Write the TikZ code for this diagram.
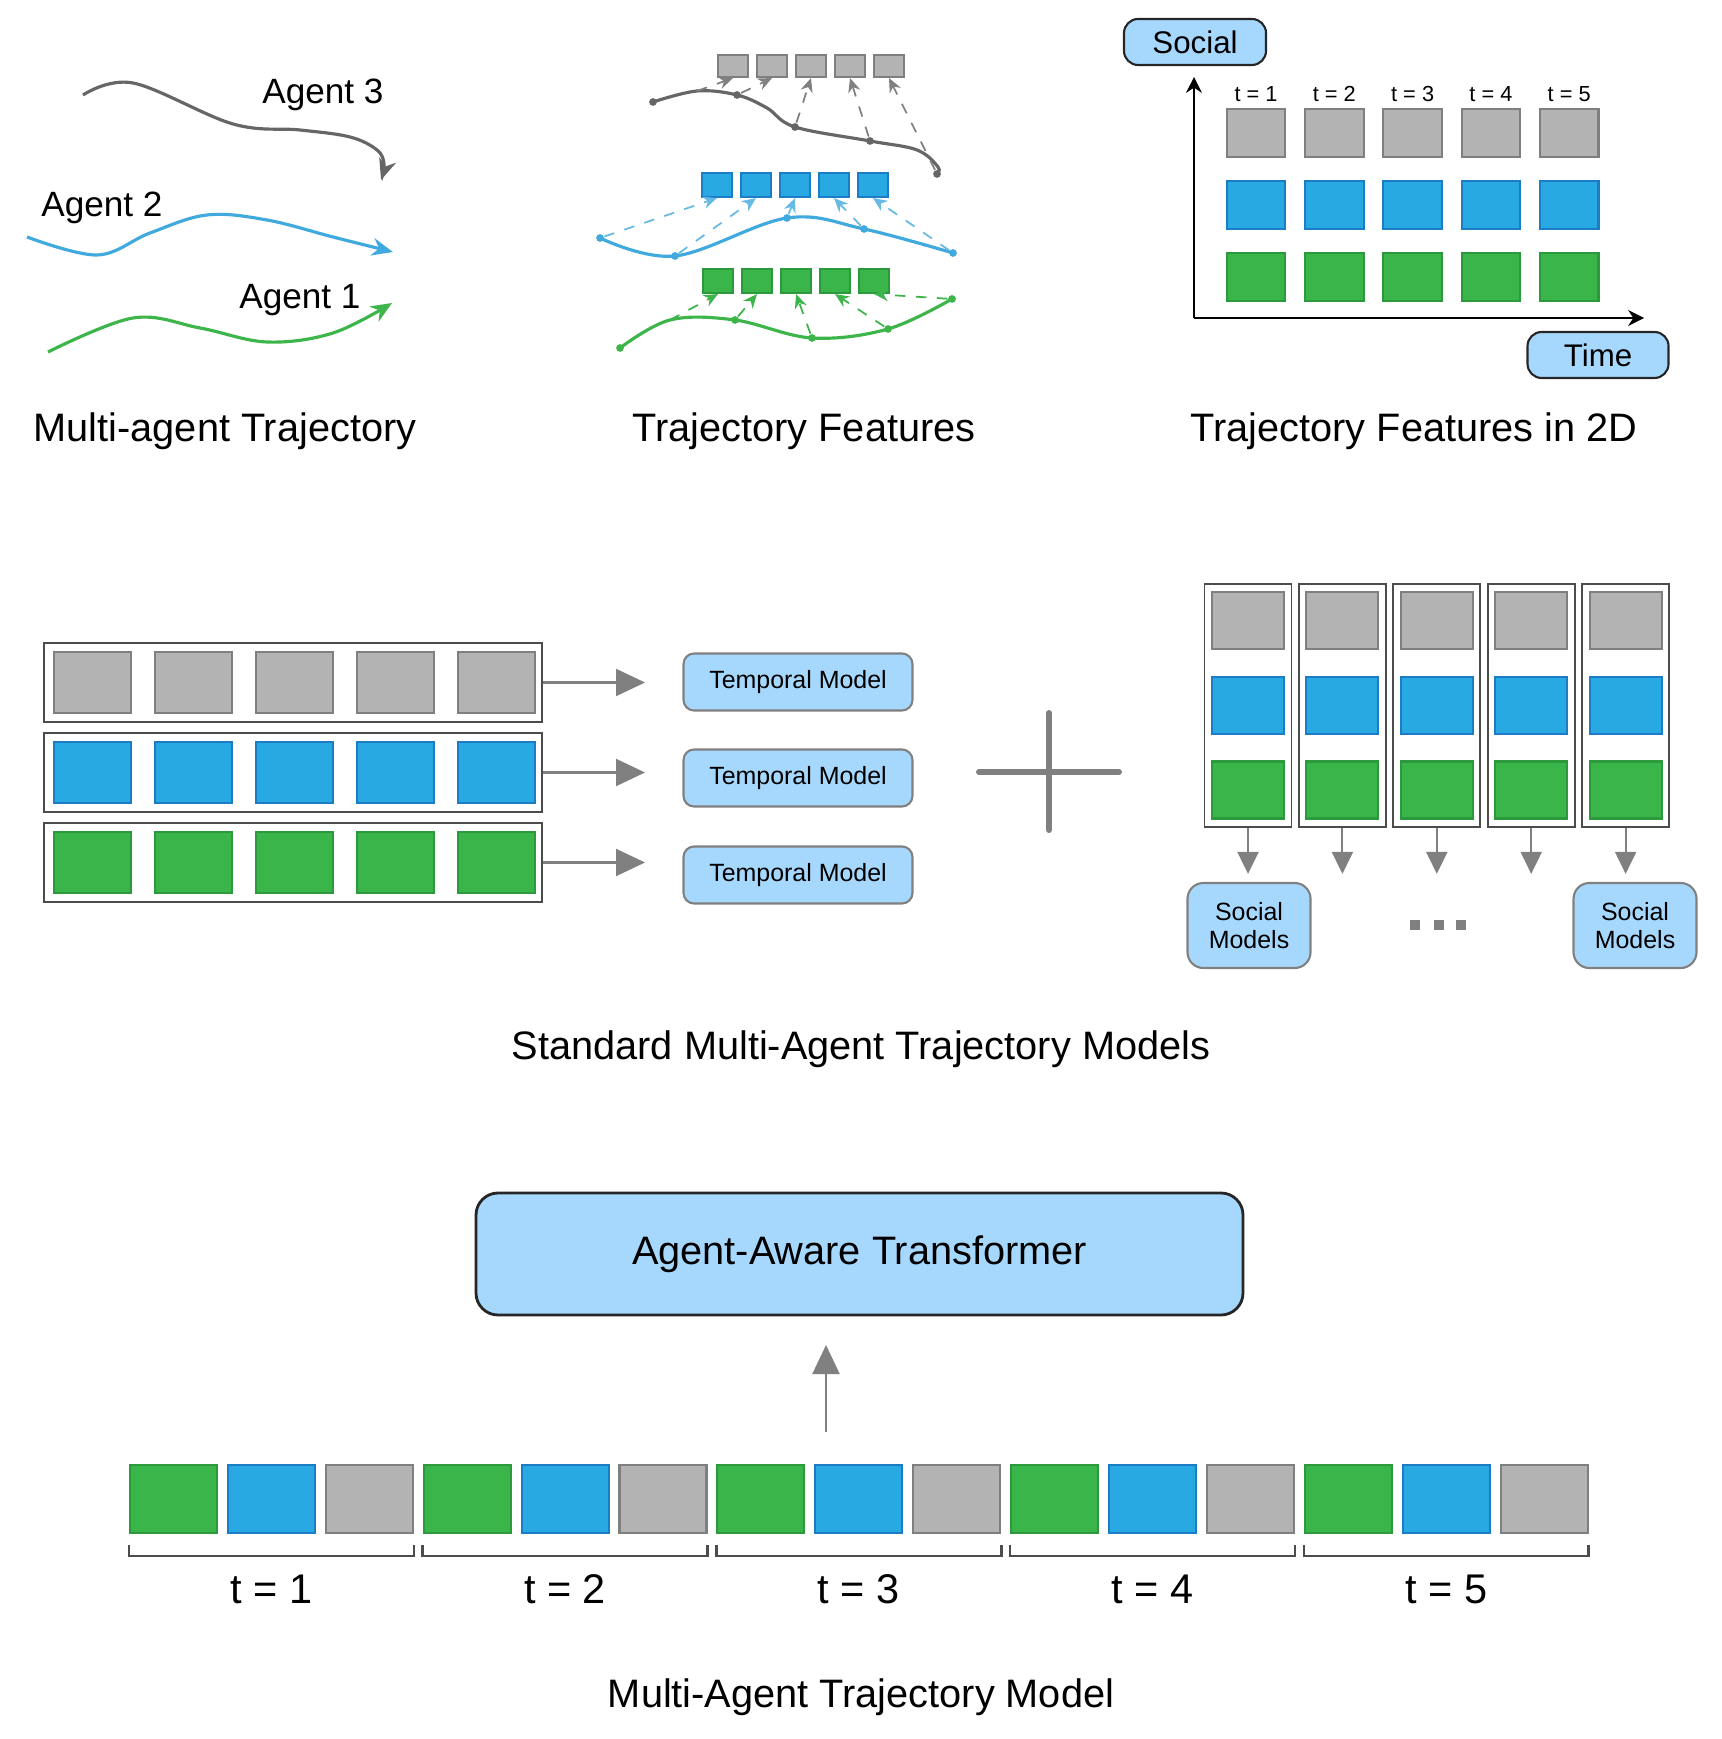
\documentclass[tikz,border=0pt]{standalone}
\usepackage{fontspec}
\setmainfont{Liberation Sans}
\usepackage{tikz}
\usetikzlibrary{positioning, arrows.meta}

\definecolor{fillg}{HTML}{B3B3B3}
\definecolor{edgeg}{HTML}{7F7F7F}
\definecolor{fillb}{HTML}{29A9E1}
\definecolor{edgeb}{HTML}{1C7DC6}
\definecolor{filln}{HTML}{3AB54A}
\definecolor{edgen}{HTML}{2C9A3C}
\definecolor{modelblue}{HTML}{A6D8FE}
\definecolor{arrgray}{HTML}{808080}
\definecolor{trajg}{HTML}{666666}
\definecolor{trajb}{HTML}{40A9DE}
\definecolor{trajn}{HTML}{3DB54A}

\begin{document}
\begin{tikzpicture}[
  sq/.style={rectangle, line width=0.6pt, inner sep=0pt},
  rowbox/.style={rectangle, draw=black!70, fill=white, line width=0.5pt, inner sep=0pt},
  model/.style={rectangle, rounded corners=3pt, fill=modelblue, draw=arrgray, line width=0.6pt, inner sep=0pt, align=center},
  ttl/.style={font=\fontsize{11.3}{13.5}\selectfont},
  agent/.style={font=\fontsize{10}{12}\selectfont},
  garr/.style={draw=arrgray, line width=0.6pt, -{Triangle[length=0.29cm, width=0.27cm]}},
  darr/.style={draw=arrgray, line width=0.6pt, -{Triangle[length=0.22cm, width=0.21cm]}},
  traj/.style={line width=0.9pt, -{Stealth[length=6pt, width=5pt]}},
  tdot/.style={circle, inner sep=0pt, minimum size=2.2pt},
  feat/.style={dashed, line width=0.5pt, -{Stealth[length=4pt, width=3.5pt]}},
  plus/.style={draw=arrgray, line width=1.7pt, line cap=round}
]
\useasboundingbox (0,0) rectangle (17.21,-17.39);

% --- Multi-agent trajectory ---
\draw[traj, trajg] plot[smooth, tension=0.6] coordinates {(0.83,-0.95) (1.33,-0.83) (2.33,-1.24) (3.0,-1.30) (3.50,-1.37) (3.77,-1.50) (3.84,-1.64) (3.81,-1.80)};
\draw[traj, trajb] plot[smooth, tension=0.6] coordinates {(0.27,-2.37) (0.97,-2.55) (1.50,-2.33) (2.07,-2.15) (2.67,-2.20) (3.33,-2.37) (3.93,-2.52)};
\draw[traj, trajn] plot[smooth, tension=0.6] coordinates {(0.48,-3.52) (1.33,-3.18) (2.00,-3.28) (2.67,-3.42) (3.33,-3.33) (3.92,-3.03)};
\node[agent] (ag3) at (3.23,-0.95) {Agent 3};
\node[agent] (ag2) at (1.02,-2.08) {Agent 2};
\node[agent] (ag1) at (3.00,-3.00) {Agent 1};
\node[ttl] (cap1) at (2.25,-4.31) {Multi-agent Trajectory};

% --- Trajectory features ---
\foreach \i in {1,...,5} {
  \node[sq, fill=fillg, draw=edgeg, minimum width=0.30cm, minimum height=0.22cm] (fg\i) at ({6.94+0.39*\i},-0.66) {};
  \node[sq, fill=fillb, draw=edgeb, minimum width=0.30cm, minimum height=0.24cm] (fb\i) at ({6.78+0.39*\i},-1.85) {};
  \node[sq, fill=filln, draw=edgen, minimum width=0.30cm, minimum height=0.24cm] (fn\i) at ({6.79+0.39*\i},-2.81) {};
}
% gray agent
\draw[line width=0.9pt, trajg] plot[smooth, tension=0.6] coordinates {(6.53,-1.02) (6.97,-0.91) (7.37,-0.95) (7.67,-1.08) (7.95,-1.27) (8.70,-1.41) (9.17,-1.50) (9.38,-1.67) (9.37,-1.74)};
\foreach \n/\p in {1/{6.53,-1.02}, 2/{7.37,-0.95}, 3/{7.95,-1.27}, 4/{8.70,-1.41}, 5/{9.37,-1.74}}
  \node[tdot, fill=trajg] (pg\n) at (\p) {};
\coordinate (sg1) at (6.97,-0.91);
\draw[feat, arrgray] (sg1) -- (fg1.south);
\foreach \n in {2,...,5} \draw[feat, arrgray] (pg\n) -- (fg\n.south);
% blue agent
\draw[line width=0.9pt, trajb] plot[smooth, tension=0.6] coordinates {(6.00,-2.38) (6.75,-2.56) (7.87,-2.18) (8.64,-2.29) (9.53,-2.53)};
\foreach \n/\p in {1/{6.00,-2.38}, 2/{6.75,-2.56}, 3/{7.87,-2.18}, 4/{8.64,-2.29}, 5/{9.53,-2.53}} {
  \node[tdot, fill=trajb] (pb\n) at (\p) {};
  \draw[feat, trajb!80] (pb\n) -- (fb\n.south);
}
% green agent
\draw[line width=0.9pt, trajn] plot[smooth, tension=0.6] coordinates {(6.20,-3.48) (6.70,-3.20) (7.35,-3.20) (8.12,-3.38) (8.88,-3.29) (9.52,-2.99)};
\foreach \n/\p in {1/{6.20,-3.48}, 2/{7.35,-3.20}, 3/{8.12,-3.38}, 4/{8.88,-3.29}, 5/{9.52,-2.99}}
  \node[tdot, fill=trajn] (pn\n) at (\p) {};
\coordinate (sn1) at (6.70,-3.20);
\draw[feat, trajn] (sn1) -- (fn1.south);
\foreach \n in {2,...,5} \draw[feat, trajn] (pn\n) -- (fn\n.south);
\node[ttl] (cap2) at (8.04,-4.31) {Trajectory Features};

% --- Features in 2D ---
\node[model, draw=black!85, rounded corners=4pt, minimum width=1.42cm, minimum height=0.46cm, font=\fontsize{8.9}{10}\selectfont] (social) at (11.95,-0.42) {Social};
\node[model, draw=black!85, rounded corners=4pt, minimum width=1.41cm, minimum height=0.46cm, font=\fontsize{8.9}{10}\selectfont] (time) at (15.98,-3.55) {Time};
\coordinate (origin) at (11.94,-3.18);
\coordinate (yend) at (11.94,-0.77);
\coordinate (xend) at (16.44,-3.18);
\draw[line width=0.6pt, -{Stealth[length=4.5pt, width=4.5pt]}] (origin) -- (yend);
\draw[line width=0.6pt, -{Stealth[length=4.5pt, width=4.5pt]}] (origin) -- (xend);
\foreach \i in {1,...,5} {
  \node[sq, fill=fillg, draw=edgeg, minimum width=0.585cm, minimum height=0.48cm] (sg\i) at ({12.56+0.783*(\i-1)},-1.33) {};
  \node[sq, fill=fillb, draw=edgeb, minimum width=0.585cm, minimum height=0.48cm] (sb\i) at ({12.56+0.783*(\i-1)},-2.05) {};
  \node[sq, fill=filln, draw=edgen, minimum width=0.585cm, minimum height=0.48cm] (sn\i) at ({12.56+0.783*(\i-1)},-2.77) {};
  \node[font=\fontsize{6.2}{7}\selectfont, inner sep=1pt, above=0.02cm of sg\i] (tl\i) {t = \i};
}
\node[ttl] (cap3) at (14.14,-4.31) {Trajectory Features in 2D};

% --- Standard models: temporal rows ---
\foreach \c/\y/\m [count=\r] in {g/-6.825/-6.82, b/-7.725/-7.78, n/-8.625/-8.75} {
  \node[rowbox, minimum width=4.98cm, minimum height=0.79cm] (row\r) at (2.93,\y) {};
  \foreach \i in {1,...,5}
    \node[sq, fill=fill\c, draw=edge\c, minimum width=0.77cm, minimum height=0.61cm] (r\r-\i) at ({0.925+1.01*(\i-1)},\y) {};
  \coordinate (tip\r) at (6.45,\y);
  \draw[garr] (row\r.east) -- (tip\r);
  \node[model, minimum width=2.29cm, minimum height=0.57cm, font=\fontsize{7.1}{8}\selectfont] (tm\r) at (7.98,\m) {Temporal Model};
}

% plus
\draw[plus] (10.49,-7.13) -- (10.49,-8.30);
\draw[plus] (9.79,-7.72) -- (11.19,-7.72);

% --- Standard models: social columns ---
\foreach \i in {1,...,5} {
  \node[rowbox, minimum width=0.87cm, minimum height=2.43cm] (col\i) at ({12.48+0.944*(\i-1)},-7.055) {};
  \node[sq, fill=fillg, draw=edgeg, minimum width=0.72cm, minimum height=0.57cm] (cg\i) at ({12.48+0.944*(\i-1)},-6.205) {};
  \node[sq, fill=fillb, draw=edgeb, minimum width=0.72cm, minimum height=0.57cm] (cb\i) at ({12.48+0.944*(\i-1)},-7.055) {};
  \node[sq, fill=filln, draw=edgen, minimum width=0.72cm, minimum height=0.57cm] (cn\i) at ({12.48+0.944*(\i-1)},-7.90) {};
  \coordinate (down\i) at ([yshift=-0.46cm]col\i.south);
  \draw[darr] (col\i.south) -- (down\i);
}
\node[model, rounded corners=4.5pt, minimum width=1.23cm, minimum height=0.85cm, font=\fontsize{7.1}{8}\selectfont] (soc1) at (12.49,-9.255) {Social\\Models};
\node[model, rounded corners=4.5pt, minimum width=1.23cm, minimum height=0.85cm, font=\fontsize{7.1}{8}\selectfont] (soc2) at (16.35,-9.255) {Social\\Models};
\foreach \x [count=\k] in {14.15,14.39,14.61}
  \node[fill=arrgray, minimum size=0.10cm, inner sep=0pt] (dot\k) at (\x,-9.25) {};
\node[ttl] (cap4) at (8.61,-10.49) {Standard Multi-Agent Trajectory Models};

% --- Agent-aware transformer ---
\node[model, draw=black!85, line width=0.8pt, rounded corners=0.22cm, minimum width=7.67cm, minimum height=1.22cm, font=\fontsize{11.3}{13.5}\selectfont] (aat) at (8.595,-12.54) {Agent-Aware Transformer};
\foreach \k in {0,...,4} {
  \foreach \c [count=\j from 0] in {n,b,g}
    \node[sq, fill=fill\c, draw=edge\c, minimum width=0.87cm, minimum height=0.68cm] (q\k-\j) at ({1.735+2.937*\k+0.979*\j},-14.99) {};
  \draw[draw=black!70, line width=0.7pt] ([yshift=-0.11cm]q\k-0.south west) -- ++(0,-0.11) -| ([yshift=-0.11cm]q\k-2.south east);
  \pgfmathtruncatemacro\tn{\k+1}
  \node[font=\fontsize{11.8}{14}\selectfont] (bt\k) at ([yshift=-0.55cm]q\k-1.south) {t = \tn};
}
\coordinate (upfoot) at (8.26,-14.32);
\coordinate (uphead) at (8.26,-13.45);
\draw[garr] (upfoot) -- (uphead);
\node[ttl] (cap5) at (8.61,-16.97) {Multi-Agent Trajectory Model};

\end{tikzpicture}
\end{document}
